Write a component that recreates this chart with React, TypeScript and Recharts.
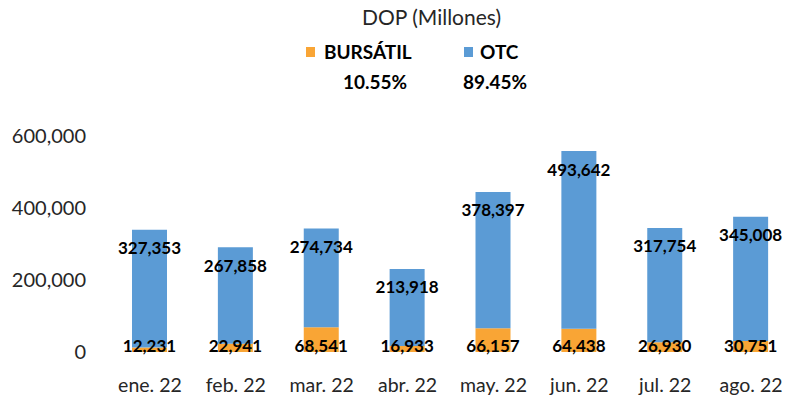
import React from 'react';
import { BarChart, Bar, XAxis, YAxis, LabelList } from 'recharts';

const months = ['ene. 22', 'feb. 22', 'mar. 22', 'abr. 22', 'may. 22', 'jun. 22', 'jul. 22', 'ago. 22'];
const bursatil = [12231, 22941, 68541, 16933, 66157, 64438, 26930, 30751];
const otc = [327353, 267858, 274734, 213918, 378397, 493642, 317754, 345008];
const yTicks = [0, 200000, 400000, 600000];
const seriesNames = ['BURSÁTIL', 'OTC'];
const seriesShares = ['10.55%', '89.45%'];

const ORANGE = '#F9A535';
const BLUE = '#5B9BD5';
const TEXT = '#262626';
const FONT = 'Lato, "Open Sans", sans-serif';

const data = months.map((m, i) => ({ month: m, bursatil: bursatil[i], otc: otc[i] }));

const fmt = (v: number) => v.toLocaleString('en-US');

// OTC value sits a bit under the top of the blue segment
const TopLabel = (props: any) => {
  const { x, y, width, value } = props;
  return (
    <text
      x={x + width / 2}
      y={y + 18}
      textAnchor="middle"
      dominantBaseline="central"
      fontFamily={FONT}
      fontWeight="bold"
      fontSize={17}
      fill="#000"
    >
      {fmt(value)}
    </text>
  );
};

// BURSÁTIL value hugs the baseline
const BottomLabel = (props: any) => {
  const { x, y, width, height, value } = props;
  return (
    <text
      x={x + width / 2}
      y={y + height - 7}
      textAnchor="middle"
      dominantBaseline="central"
      fontFamily={FONT}
      fontWeight="bold"
      fontSize={17}
      fill="#000"
    >
      {fmt(value)}
    </text>
  );
};

export default function App() {
  React.useEffect(() => {
    document.documentElement.style.overflow = 'hidden';
    document.body.style.margin = '0';
  }, []);

  const swatch = (color: string, left: number) => (
    <div style={{ position: 'absolute', left, top: 47, width: 9, height: 10, background: color }} />
  );
  const txt = (s: string, left: number, top: number, size: number, bold: boolean) => (
    <div
      style={{
        position: 'absolute',
        left,
        top,
        fontSize: size,
        fontWeight: bold ? 'bold' : 'normal',
        color: bold ? '#000' : TEXT,
        lineHeight: 1,
        whiteSpace: 'nowrap',
      }}
    >
      {s}
    </div>
  );

  return (
    <div
      style={{
        position: 'relative',
        width: 787,
        height: 403,
        background: '#fff',
        fontFamily: FONT,
      }}
    >
      <BarChart width={787} height={403} data={data} margin={{ top: 136, right: 0, left: 0, bottom: 0 }}>
        <XAxis
          dataKey="month"
          height={51}
          tickLine={false}
          axisLine={false}
          tickMargin={20}
          padding={{ left: 0, right: -7 }}
          tick={{ fill: TEXT, fontSize: 19.5, fontFamily: FONT }}
          interval={0}
        />
        <YAxis
          width={107}
          domain={[0, 600000]}
          ticks={yTicks}
          tickLine={false}
          axisLine={false}
          tickMargin={15}
          tickFormatter={fmt}
          tick={{ fill: TEXT, fontSize: 20, fontFamily: FONT }}
        />
        <Bar dataKey="bursatil" stackId="a" fill={ORANGE} barSize={35} isAnimationActive={false}>
          <LabelList dataKey="bursatil" content={BottomLabel} />
        </Bar>
        <Bar dataKey="otc" stackId="a" fill={BLUE} barSize={35} isAnimationActive={false}>
          <LabelList dataKey="otc" content={TopLabel} />
        </Bar>
      </BarChart>

      {txt('DOP (Millones)', 362, 6, 21, false)}
      {swatch(ORANGE, 306)}
      {txt(seriesNames[0], 324, 42, 19, true)}
      {swatch(BLUE, 464)}
      {txt(seriesNames[1], 480, 42, 19, true)}
      {txt(seriesShares[0], 343, 72, 19, true)}
      {txt(seriesShares[1], 463, 72, 19, true)}
    </div>
  );
}
